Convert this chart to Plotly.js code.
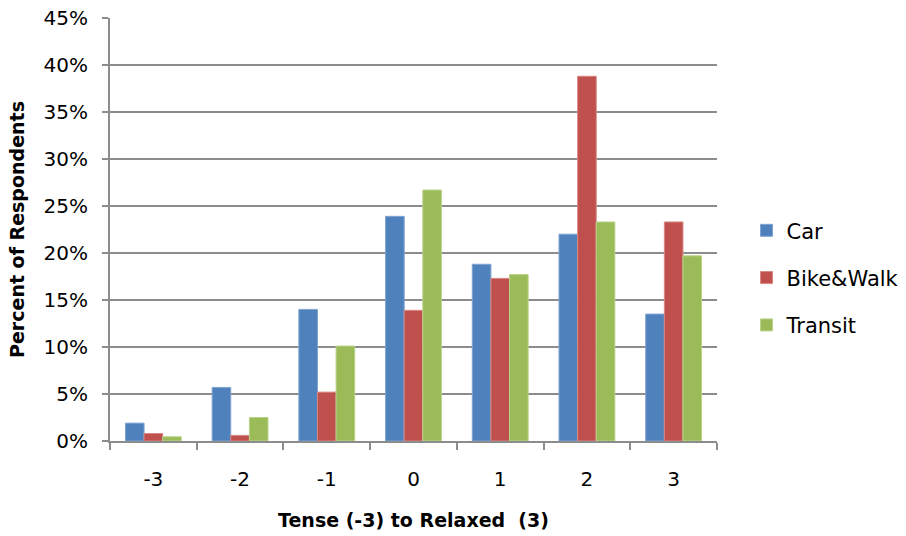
<!DOCTYPE html>
<html>
<head>
<meta charset="utf-8">
<script src="https://cdn.plot.ly/plotly-3.0.1.min.js"></script>
<style>
  html, body { margin: 0; padding: 0; background: #fff; }
  #chart { width: 906px; height: 536px; }
</style>
</head>
<body>
<div id="chart"></div>
<script>
// Mood scale from tense (-3) to relaxed (3)
var categories = ['-3', '-2', '-1', '0', '1', '2', '3'];

// Percent of respondents per travel mode
var carValues     = [1.9, 5.7, 14.0, 23.9, 18.8, 22.0, 13.5];
var bikeValues    = [0.8, 0.6, 5.2, 13.9, 17.3, 38.8, 23.3];
var transitValues = [0.45, 2.5, 10.1, 26.7, 17.7, 23.3, 19.7];

var seriesNames = ['Car', 'Bike&Walk', 'Transit'];
var seriesColors = ['#4F81BD', '#C0504D', '#9BBB59'];
var edgeColors = ['#7FA3D2', '#D88785', '#B9D28A'];
var seriesValues = [carValues, bikeValues, transitValues];

var traces = seriesValues.map(function (vals, i) {
  return {
    type: 'bar',
    name: seriesNames[i],
    legendgroup: 'g' + i,
    x: categories,
    y: vals,
    marker: { color: seriesColors[i], line: { color: edgeColors[i], width: 1 } },
    hoverinfo: 'x+y+name'
  };
});

var gridGray = '#8C8C8C';
var tickFont = { family: 'DejaVu Sans, sans-serif', size: 20, color: '#000' };
var titleFont = { family: 'DejaVu Sans, sans-serif', size: 19, weight: 'bold', color: '#000' };

var layout = {
  width: 906,
  height: 536,
  margin: { l: 110, r: 189, t: 18, b: 95 },
  paper_bgcolor: '#ffffff',
  plot_bgcolor: '#ffffff',
  font: { family: 'DejaVu Sans, sans-serif', size: 19, color: '#000000' },
  barmode: 'group',
  bargap: 0.356,
  bargroupgap: 0,
  xaxis: {
    type: 'category',
    automargin: false,
    showgrid: false,
    showline: true,
    linecolor: gridGray,
    linewidth: 2,
    ticks: 'outside',
    tickson: 'boundaries',
    ticklen: 7,
    tickwidth: 2,
    tickcolor: gridGray,
    ticklabelstandoff: 19,
    tickfont: tickFont,
    title: {
      text: 'Tense (-3) to Relaxed\u00a0 (3)',
      font: titleFont,
      standoff: 24
    }
  },
  yaxis: {
    range: [0, 45],
    dtick: 5,
    ticksuffix: '%',
    automargin: false,
    showgrid: true,
    gridcolor: gridGray,
    gridwidth: 2,
    zeroline: false,
    showline: true,
    linecolor: gridGray,
    linewidth: 2,
    ticks: 'outside',
    ticklen: 6,
    tickwidth: 2,
    tickcolor: gridGray,
    ticklabelstandoff: 10,
    tickfont: tickFont,
    title: {
      text: 'Percent of Respondents',
      font: titleFont,
      standoff: 14
    }
  },
  legend: {
    xref: 'container',
    yref: 'container',
    x: 0.824,
    xanchor: 'left',
    y: 0.482,
    yanchor: 'middle',
    font: { family: 'DejaVu Sans, sans-serif', size: 21, color: '#000' },
    tracegroupgap: 17,
    itemwidth: 30,
    bgcolor: 'rgba(0,0,0,0)'
  },
  showlegend: true
};

Plotly.newPlot('chart', traces, layout, { displayModeBar: false, staticPlot: true });
</script>
</body>
</html>
